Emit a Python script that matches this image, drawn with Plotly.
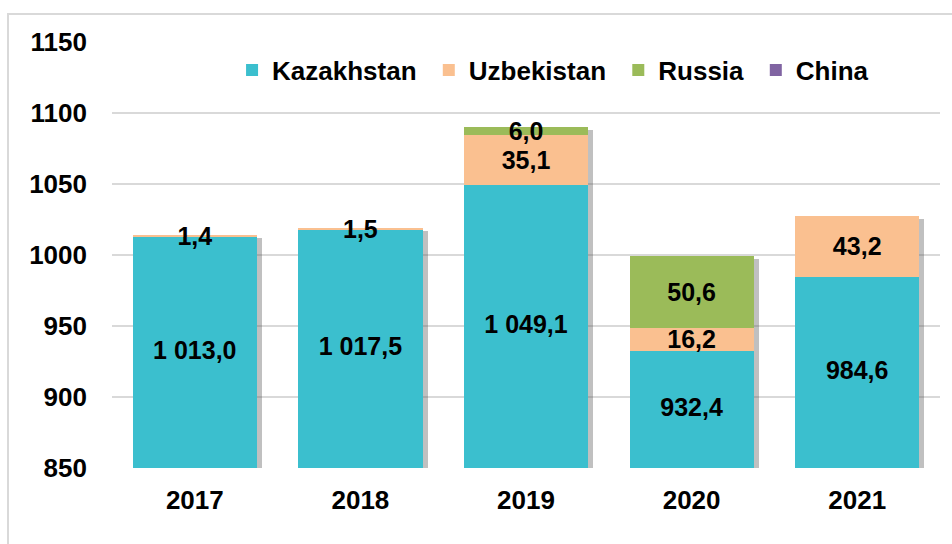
import plotly.graph_objects as go
import numpy as np

years = ["2017", "2018", "2019", "2020", "2021"]
kazakhstan = [1013.0, 1017.5, 1049.1, 932.4, 984.6]
uzbekistan = [1.4, 1.5, 35.1, 16.2, 43.2]
russia = [0.0, 0.0, 6.0, 50.6, 0.0]
china = [0.0, 0.0, 0.0, 0.0, 0.0]

y_ticks = [850, 900, 950, 1000, 1050, 1100, 1150]

series = [
    ("Kazakhstan", kazakhstan, "#3BBFCE"),
    ("Uzbekistan", uzbekistan, "#FAC090"),
    ("Russia", russia, "#9BBB59"),
    ("China", china, "#8064A2"),
]

FONT = "Liberation Sans, Arial, sans-serif"
ymin, ymax = 850, 1150


def fmt(v):
    if v == 0:
        return ""
    s = f"{v:,.1f}"
    return s.replace(",", " ").replace(".", ",")


totals = np.sum([kazakhstan, uzbekistan, russia, china], axis=0)

fig = go.Figure()

# shadow behind each stacked bar (on the main, hidden axes, drawn first)
fig.add_trace(go.Bar(
    x=years, y=totals, xaxis="x", yaxis="y",
    marker=dict(color="rgba(90,90,90,0.38)", line=dict(width=0)),
    showlegend=False, hoverinfo="skip",
))

label_font = dict(family=FONT, size=25, color="black", weight="bold")

for i, (name, vals, color) in enumerate(series):
    fig.add_trace(go.Bar(
        name=name + " ", x=years, y=vals, xaxis="x2", yaxis="y2",
        marker=dict(color=color, line=dict(width=0)),
        text=None if i == 0 else [fmt(v) for v in vals],
        textposition="inside",
        insidetextanchor="middle",
        textangle=0,
        constraintext="none",
        cliponaxis=False,
        textfont=label_font,
    ))

# Kazakhstan labels centred in the visible part of the bar
fig.add_trace(go.Scatter(
    x=years, y=[(ymin + v) / 2 for v in kazakhstan], xaxis="x2", yaxis="y2",
    mode="text", text=[fmt(v) for v in kazakhstan], textfont=label_font,
    textposition="middle center", showlegend=False, hoverinfo="skip",
    cliponaxis=False,
))

W, H = 952, 544
ml, mr, mt, mb = 112, 12, 42, 76
pw = W - ml - mr
ph = H - mt - mb
px_per_unit_y = ph / (ymax - ymin)
px_per_cat = pw / len(years)
sx, sy = 5, 3  # shadow offset in px

fig.update_layout(
    width=W, height=H,
    margin=dict(l=ml, r=mr, t=mt, b=mb),
    paper_bgcolor="white", plot_bgcolor="white",
    barmode="stack", bargap=0.25,
    font=dict(family=FONT, size=26, color="black", weight="bold"),
    xaxis=dict(
        type="category", categoryorder="array", categoryarray=years,
        range=[-0.5 - sx / px_per_cat, len(years) - 0.5 - sx / px_per_cat],
        showticklabels=False, showgrid=False, zeroline=False, showline=False,
    ),
    yaxis=dict(
        range=[ymin + sy / px_per_unit_y, ymax + sy / px_per_unit_y],
        showticklabels=False, showgrid=False, zeroline=False, showline=False,
    ),
    xaxis2=dict(
        overlaying="x", anchor="y2", side="bottom",
        type="category", categoryorder="array", categoryarray=years,
        range=[-0.5, len(years) - 0.5],
        showgrid=False, zeroline=False, showline=False,
        ticks="", ticklabelstandoff=14,
        tickfont=dict(family=FONT, size=26, color="black", weight="bold"),
    ),
    yaxis2=dict(
        overlaying="y", anchor="x2", side="left",
        range=[ymin, ymax], tickvals=y_ticks,
        showgrid=True, gridcolor="#D9D9D9", gridwidth=2,
        zeroline=False, showline=False, ticks="", ticklabelstandoff=24,
        tickfont=dict(family=FONT, size=26, color="black", weight="bold"),
    ),
    legend=dict(
        orientation="h", x=0.145, xanchor="left", y=0.934, yanchor="middle",
        bgcolor="rgba(0,0,0,0)",
        font=dict(family=FONT, size=26, color="black", weight="bold"),
        traceorder="normal",
    ),
    shapes=[dict(
        type="rect", xref="paper", yref="paper",
        x0=(8 - ml) / pw, x1=(W + 20 - ml) / pw,
        y0=-(H + 20 - mt - ph) / ph, y1=1 + (mt - 14) / ph,
        line=dict(color="#D9D9D9", width=2), fillcolor="rgba(0,0,0,0)",
        layer="below",
    )],
)

fig.write_html("out.html", config={"displayModeBar": False},
               post_script="document.body.style.margin='0';")
